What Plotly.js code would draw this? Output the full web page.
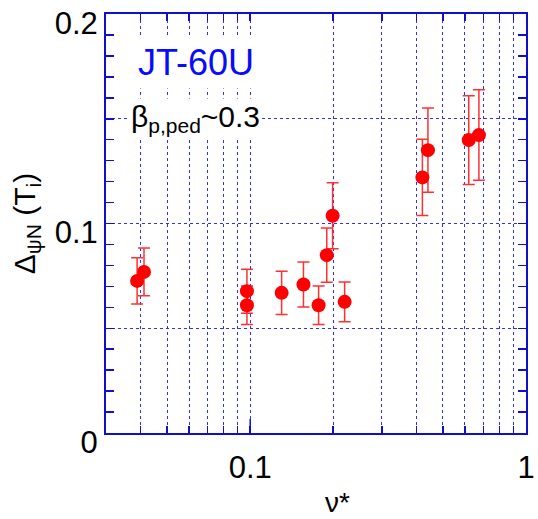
<!DOCTYPE html>
<html>
<head>
<meta charset="utf-8">
<script src="https://cdn.plot.ly/plotly-3.0.1.min.js"></script>
<style>html,body{margin:0;padding:0;background:#fff;}#chart{width:538px;height:519px;}</style>
</head>
<body>
<div id="chart"></div>
<script>
// Data
var nuStar = [0.0389, 0.0412, 0.0973, 0.0973, 0.130, 0.156, 0.177, 0.1895, 0.199, 0.220, 0.421, 0.441, 0.620, 0.675];
var deltaPsiN = [0.0726, 0.0769, 0.0677, 0.0610, 0.0669, 0.0709, 0.0610, 0.0849, 0.1037, 0.0626, 0.1220, 0.1350, 0.1398, 0.1422];
var deltaErr = [0.0110, 0.0114, 0.0105, 0.0092, 0.0103, 0.0107, 0.0092, 0.0129, 0.0157, 0.0095, 0.0182, 0.0201, 0.0212, 0.0216];

var xTickVals = [0.1, 1];
var xTickText = ['0.1', '1'];
var xMinorVals = [0.04, 0.05, 0.06, 0.07, 0.08, 0.09, 0.2, 0.3, 0.4, 0.5, 0.6, 0.7, 0.8, 0.9];
var yTickVals = [0, 0.05, 0.1, 0.15, 0.2];
var yTickText = ['0', '', '0.1', '', '0.2'];

var blue = '#1010cc';
var gridBlue = '#3030ee';
var FONT = 'Liberation Sans, Arial, sans-serif';

var trace = {
  x: nuStar,
  y: deltaPsiN,
  type: 'scatter',
  mode: 'markers',
  marker: {color: '#ff0000', size: 14},
  error_y: {type: 'data', array: deltaErr, visible: true, color: '#ff3030', thickness: 1.5, width: 6},
  showlegend: false
};

var layout = {
  width: 538, height: 519,
  margin: {l: 106, r: 12, t: 14, b: 86},
  paper_bgcolor: '#ffffff',
  plot_bgcolor: '#ffffff',
  font: {family: FONT, color: '#000000', size: 28},
  xaxis: {
    type: 'log',
    range: [Math.log10(0.03), 0],
    tickmode: 'array',
    tickvals: xTickVals,
    ticktext: xTickText,
    ticks: 'inside', ticklen: 7, tickwidth: 1.5, tickcolor: blue,
    minor: {tickmode: 'array', tickvals: xMinorVals, ticks: 'inside', ticklen: 7, tickwidth: 1.5, tickcolor: blue,
            showgrid: true, gridcolor: gridBlue, gridwidth: 1, griddash: 'dot'},
    showline: true, linecolor: blue, linewidth: 2, mirror: 'ticks',
    showgrid: true, gridcolor: gridBlue, gridwidth: 1, griddash: 'dot',
    zeroline: false,
    tickfont: {size: 31, family: FONT, color: '#000'},
    ticklabelstandoff: 6,
    ticklabeloverflow: 'allow',
    automargin: false
  },
  yaxis: {
    range: [0, 0.2],
    tickmode: 'array',
    tickvals: yTickVals,
    ticktext: yTickText,
    ticks: 'inside', ticklen: 8, tickwidth: 1.5, tickcolor: blue,
    minor: {dtick: 0.01, ticks: 'inside', ticklen: 8, tickwidth: 1.5, tickcolor: blue, showgrid: false},
    showline: true, linecolor: blue, linewidth: 2, mirror: 'ticks',
    showgrid: true, gridcolor: gridBlue, gridwidth: 1, griddash: 'dot',
    zeroline: false,
    tickfont: {size: 31, family: FONT, color: '#000'},
    ticklabelshift: 9,
    ticklabelstandoff: 0,
    ticklabeloverflow: 'allow',
    title: {text: 'Δ<sub>ψN</sub> (T<sub>i</sub>)', font: {size: 30, family: FONT, color: '#000'}, standoff: 10},
    automargin: false
  },
  shapes: [{
    type: 'line', xref: 'x', yref: 'y', ysizemode: 'pixel', yanchor: 0,
    x0: 0.1, x1: 0.1, y0: 0, y1: 14,
    line: {color: blue, width: 1.5}
  }],
  annotations: [
    {text: 'JT-60U', xref: 'paper', yref: 'paper', x: 0.214, y: 0.885, xanchor: 'center', yanchor: 'middle',
     showarrow: false, bgcolor: '#ffffff', borderpad: 5, font: {size: 36, family: FONT, color: '#0a0aff'}},
    {text: 'β<sub>p,ped</sub>~0.3', xref: 'paper', yref: 'paper', x: 0.055, y: 0.75, xanchor: 'left', yanchor: 'middle',
     showarrow: false, bgcolor: '#ffffff', borderpad: 1, font: {size: 30, family: FONT, color: '#000'}},
    {text: 'ν*', xref: 'paper', yref: 'paper', x: 0.55, y: -0.2048, xanchor: 'center', yanchor: 'bottom',
     showarrow: false, borderpad: 0, font: {size: 28, family: FONT, color: '#000'}}
  ]
};

Plotly.newPlot('chart', [trace], layout, {displayModeBar: false, staticPlot: true});
</script>
</body>
</html>
